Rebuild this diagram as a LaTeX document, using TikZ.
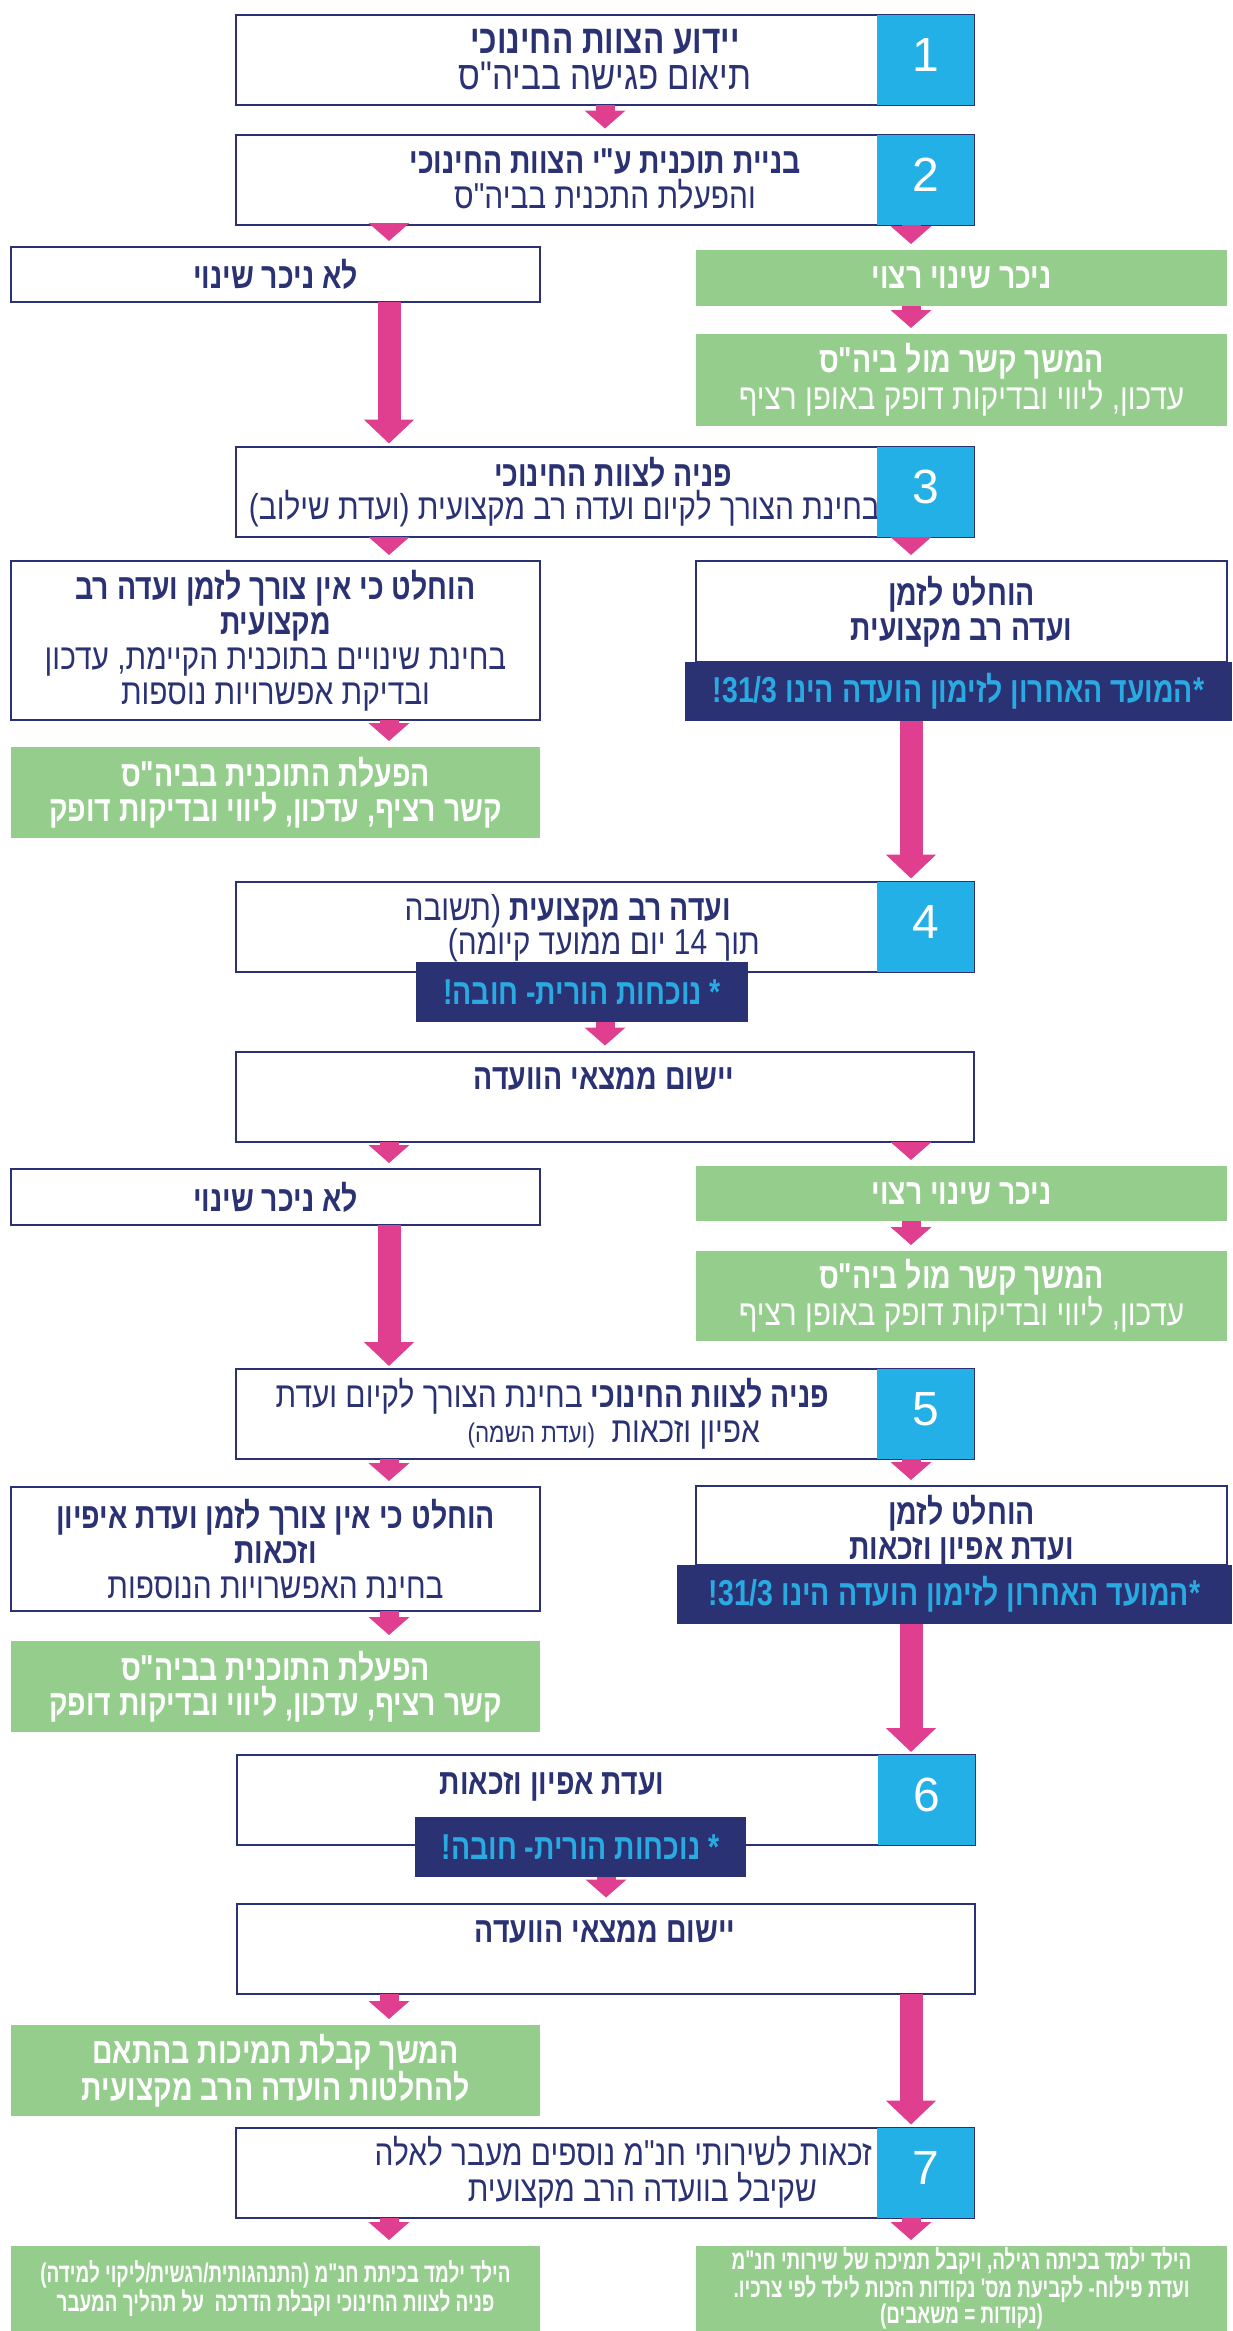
\documentclass[tikz,border=0pt]{standalone}
\usepackage{fontspec}
\usetikzlibrary{arrows.meta, positioning}
\newfontfamily\hebfont[Script=Hebrew, Ligatures=TeXOff, FakeStretch=0.83,
    BoldFeatures={FakeStretch=0.79}]{Liberation Sans}
\newfontfamily\hebnarrow[Script=Hebrew, Ligatures=TeXOff, FakeStretch=0.7]{Liberation Sans}
\newfontfamily\digitfont{Liberation Sans}
\TeXXeTstate=1

\definecolor{navy}{HTML}{2B3274}
\definecolor{numblue}{HTML}{22B0E6}
\definecolor{arrpink}{HTML}{E03E8E}
\definecolor{leafgreen}{HTML}{94CD8C}
\definecolor{skytext}{HTML}{29ABE2}

\newcommand{\rl}[1]{\beginR#1\endR}
\newcommand{\rlb}[1]{\beginR{\bfseries#1}\endR}
\newcommand{\mainsize}{\fontsize{36}{35}\selectfont}
\newcommand{\tinysize}{\fontsize{27}{23}\selectfont}

\begin{document}
\begin{tikzpicture}[
    x=1pt, y=-1pt,
    font=\hebfont\mainsize,
    basebox/.style={rectangle, inner sep=0pt, outer sep=0pt, align=center},
    stage/.style={basebox, draw=navy, line width=2pt, fill=white, text=navy,
        minimum width=738pt, minimum height=90pt},
    plain/.style={basebox, draw=navy, line width=2pt, fill=white, text=navy},
    greenbox/.style={basebox, fill=leafgreen, text=white},
    band/.style={basebox, fill=navy, text=skytext, font=\hebfont\bfseries\mainsize},
    numbox/.style={basebox, fill=numblue, text=white, anchor=east,
        minimum width=97pt, minimum height=90pt, text depth=10pt,
        font=\digitfont\fontsize{48}{48}\selectfont},
    rowtext/.style={inner sep=0pt, text=navy},
    small arrow/.style={draw=arrpink, line width=19pt, shorten >=6pt,
        -{Triangle[width=40pt, length=18pt]}},
    long arrow/.style={draw=arrpink, line width=23pt, shorten >=3pt,
        -{Triangle[width=49pt, length=24pt]}}
]
\useasboundingbox (0,0) rectangle (1232,2331);
\fill[white] (0,0) rectangle (1232,2331);

% columns of the side arrows
\coordinate (colL) at (389,0);
\coordinate (colR) at (911,0);

% step 1 - 2
\node[stage, font=\hebfont\fontsize{40}{36}\selectfont] (b1) at (605,60) {\rlb{יידוע הצוות החינוכי}\\\rl{תיאום פגישה בביה"ס}};
\node[stage] (b2) at (605,179.5) {\rlb{בניית תוכנית ע"י הצוות החינוכי}\\\rl{והפעלת התכנית בביה"ס}};
\node[plain, minimum width=529pt, minimum height=55pt] (nochange1) at (275.5,274.5) {\rlb{לא ניכר שינוי}};
\node[greenbox, minimum width=531pt, minimum height=56pt] (change1) at (961.5,278) {\rlb{ניכר שינוי רצוי}};
\node[greenbox, minimum width=531pt, minimum height=92pt] (contact1) at (961.5,380) {\rlb{המשך קשר מול ביה"ס}\\\rl{עדכון, ליווי ובדיקות דופק באופן רציף}};

% step 3
\node[stage] (b3) at (605,491.5) {};
\node[rowtext, anchor=base] (b3a) at (613,486) {\rlb{פניה לצוות החינוכי}};
\node[rowtext, anchor=base east] (b3b) at (880,519) {\rl{בחינת הצורך לקיום ועדה רב מקצועית (ועדת שילוב)}};
\node[plain, minimum width=529pt, minimum height=159pt] (nosession1) at (275.5,640.5) {\rlb{הוחלט כי אין צורך לזמן ועדה רב}\\\rlb{מקצועית}\\\rl{בחינת שינויים בתוכנית הקיימת, עדכון}\\\rl{ובדיקת אפשרויות נוספות}};
\node[plain, minimum width=531pt, minimum height=101pt] (session1) at (961.5,611.5) {\rlb{הוחלט לזמן}\\\rlb{ועדה רב מקצועית}};
\node[band, minimum width=547pt, minimum height=59pt] (deadline1) at (958.5,691.5) {\rl{*המועד האחרון לזימון הועדה הינו \beginL31/3\endL!}};
\node[greenbox, minimum width=529pt, minimum height=91pt] (run1) at (275.5,792.5) {\rlb{הפעלת התוכנית בביה"ס}\\\rlb{קשר רציף, עדכון, ליווי ובדיקות דופק}};

% step 4
\node[stage] (b4) at (605,926.5) {};
\node[rowtext, anchor=base east] (b4a) at (731,920) {\beginR{\bfseries ועדה רב מקצועית} (תשובה\endR};
\node[rowtext, anchor=base east] (b4b) at (760,954) {\rl{תוך \beginL14\endL{} יום ממועד קיומה)}};
\node[band, minimum width=332pt, minimum height=60pt] (parents1) at (582,992) {\rl{* נוכחות הורית- חובה!}};
\node[stage] (apply1) at (605,1096.5) {};
\node[rowtext, anchor=base] (apply1t) at (604,1089) {\rlb{יישום ממצאי הוועדה}};
\node[plain, minimum width=529pt, minimum height=56pt] (nochange2) at (275.5,1197) {\rlb{לא ניכר שינוי}};
\node[greenbox, minimum width=531pt, minimum height=55pt] (change2) at (961.5,1193.5) {\rlb{ניכר שינוי רצוי}};
\node[greenbox, minimum width=531pt, minimum height=90pt] (contact2) at (961.5,1296) {\rlb{המשך קשר מול ביה"ס}\\\rl{עדכון, ליווי ובדיקות דופק באופן רציף}};

% step 5
\node[stage] (b5) at (605,1414) {};
\node[rowtext, anchor=base east] (b5a) at (829,1407) {\beginR{\bfseries פניה לצוות החינוכי} בחינת הצורך לקיום ועדת\endR};
\node[rowtext, anchor=base east] (b5b) at (760,1442) {\beginR אפיון וזכאות \ {\tinysize (ועדת השמה)}\endR};
\node[plain, minimum width=529pt, minimum height=124pt] (nosession2) at (275.5,1549) {\rlb{הוחלט כי אין צורך לזמן ועדת איפיון}\\\rlb{וזכאות}\\\rl{בחינת האפשרויות הנוספות}};
\node[plain, minimum width=531pt, minimum height=79pt] (session2) at (961.5,1525.5) {};
\node[rowtext, align=center] (session2t) at (961.5,1531) {\rlb{הוחלט לזמן}\\\rlb{ועדת אפיון וזכאות}};
\node[band, minimum width=555pt, minimum height=59pt] (deadline2) at (954.5,1594.5) {\rl{*המועד האחרון לזימון הועדה הינו \beginL31/3\endL!}};
\node[greenbox, minimum width=529pt, minimum height=91pt] (run2) at (275.5,1686.5) {\rlb{הפעלת התוכנית בביה"ס}\\\rlb{קשר רציף, עדכון, ליווי ובדיקות דופק}};

% step 6
\node[stage] (b6) at (606,1800) {};
\node[rowtext, anchor=base] (b6a) at (552,1794) {\rlb{ועדת אפיון וזכאות}};
\node[band, minimum width=331pt, minimum height=60pt] (parents2) at (580.5,1847) {\rl{* נוכחות הורית- חובה!}};
\node[stage] (apply2) at (606,1948.5) {};
\node[rowtext, anchor=base] (apply2t) at (605,1942) {\rlb{יישום ממצאי הוועדה}};
\node[greenbox, minimum width=529pt, minimum height=91pt] (support) at (275.5,2070.5) {\rlb{המשך קבלת תמיכות בהתאם}\\\rlb{להחלטות הועדה הרב מקצועית}};

% step 7
\node[stage] (b7) at (605,2172.5) {};
\node[rowtext, anchor=base east] (b7a) at (872,2165) {\rl{זכאות לשירותי חנ"מ נוספים מעבר לאלה}};
\node[rowtext, anchor=base east] (b7b) at (817,2201) {\rl{שקיבל בוועדה הרב מקצועית}};
\node[greenbox, minimum width=529pt, minimum height=85pt, font=\hebnarrow\bfseries\tinysize] (special) at (275.5,2288.5) {\rl{הילד ילמד בכיתת חנ"מ (התנהגותית/רגשית/ליקוי למידה)}\\\rl{פניה לצוות החינוכי וקבלת הדרכה \ על תהליך המעבר}};
\node[greenbox, minimum width=531pt, minimum height=85pt, font=\hebnarrow\bfseries\tinysize] (regular) at (961.5,2288.5) {\rl{הילד ילמד בכיתה רגילה, ויקבל תמיכה של שירותי חנ"מ}\\\rl{ועדת פילוח- לקביעת מס' נקודות הזכות לילד לפי צרכיו.}\\\rl{(נקודות = משאבים)}};

% numbered squares
\foreach \s/\n in {b1/1, b2/2, b3/3, b4/4, b5/5, b6/6, b7/7}
    \node[numbox] (num\n) at (\s.east) {\n};

% arrows
\draw[small arrow] (b1.south) -- (b2.north);
\draw[small arrow] (b2.south -| colL) -- (nochange1.north -| colL);
\draw[small arrow] (b2.south -| colR) -- (change1.north -| colR);
\draw[small arrow] (change1.south -| colR) -- (contact1.north -| colR);
\draw[long arrow] (nochange1.south -| colL) -- (b3.north -| colL);
\draw[small arrow] (b3.south -| colL) -- (nosession1.north -| colL);
\draw[small arrow] (b3.south -| colR) -- (session1.north -| colR);
\draw[small arrow] (nosession1.south -| colL) -- (run1.north -| colL);
\draw[long arrow] (deadline1.south -| colR) -- (b4.north -| colR);
\draw[small arrow] (parents1.south -| apply1) -- (apply1.north);
\draw[small arrow] (apply1.south -| colL) -- (nochange2.north -| colL);
\draw[small arrow] (apply1.south -| colR) -- (change2.north -| colR);
\draw[small arrow] (change2.south -| colR) -- (contact2.north -| colR);
\draw[long arrow] (nochange2.south -| colL) -- (b5.north -| colL);
\draw[small arrow] (b5.south -| colL) -- (nosession2.north -| colL);
\draw[small arrow] (b5.south -| colR) -- (session2.north -| colR);
\draw[small arrow] (nosession2.south -| colL) -- (run2.north -| colL);
\draw[long arrow] (deadline2.south -| colR) -- (b6.north -| colR);
\draw[small arrow] (parents2.south -| apply2) -- (apply2.north);
\draw[small arrow] (apply2.south -| colL) -- (support.north -| colL);
\draw[long arrow] (apply2.south -| colR) -- (b7.north -| colR);
\draw[small arrow] (b7.south -| colL) -- (special.north -| colL);
\draw[small arrow] (b7.south -| colR) -- (regular.north -| colR);

\end{tikzpicture}
\end{document}
